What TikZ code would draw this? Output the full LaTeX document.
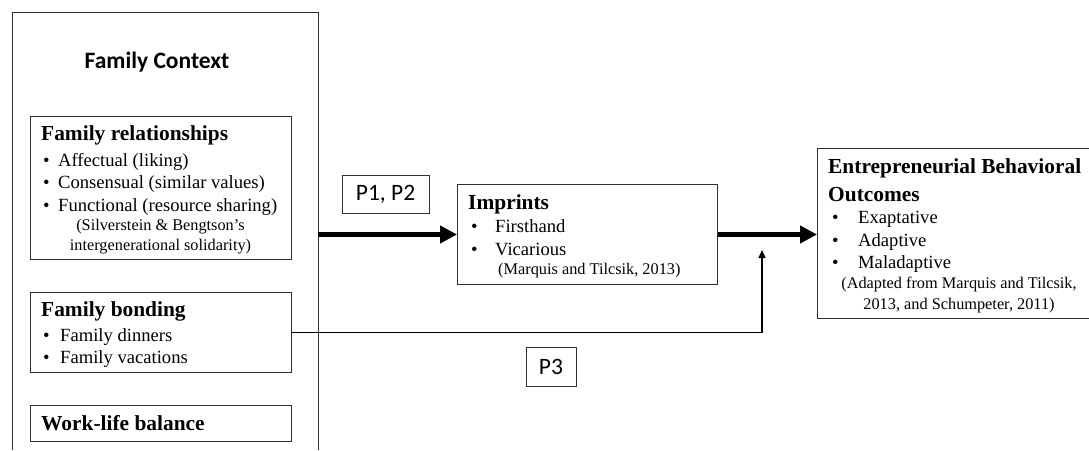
\documentclass[tikz,border=0pt]{standalone}
\usepackage{fontspec}
\setmainfont{Liberation Serif}
\newfontfamily\calfont{Carlito}
\usetikzlibrary{arrows.meta}
\definecolor{boxc}{HTML}{303030}
\tikzset{
  box/.style={draw=boxc, line width=1pt, inner sep=0pt, anchor=north west},
  ttl/.style={anchor=base west, inner sep=0pt, font=\fontsize{21.4}{24}\selectfont\bfseries},
  itm/.style={anchor=base west, inner sep=0pt, font=\fontsize{18.6}{22}\selectfont},
  bul/.style={anchor=base west, inner sep=0pt, font=\fontsize{18.6}{22}\selectfont},
  smallc/.style={anchor=base, inner sep=0pt, font=\fontsize{16.3}{19}\selectfont},
  smalll/.style={anchor=base west, inner sep=0pt, font=\fontsize{16.3}{19}\selectfont},
  pbox/.style={draw=boxc, line width=1pt, inner sep=0pt, font=\calfont\fontsize{23.5}{26}\selectfont},
  bigarrow/.style={line width=5.5pt, -{Triangle[length=17pt,width=17pt]}},
  thinarrow/.style={line width=1.2pt, -{Triangle[length=8pt,width=7pt]}},
}
\begin{document}
\begin{tikzpicture}[x=1pt,y=-1pt]
\useasboundingbox (0,0) rectangle (1089,450);
% outer family context frame (open at the bottom)
\node[inner sep=0pt, minimum width=306pt, minimum height=438pt, anchor=north west] (ctx) at (12,12) {};
\draw[boxc, line width=1pt] (ctx.south west) -- (ctx.north west) -- (ctx.north east) -- (ctx.south east);
\node[anchor=base, inner sep=0pt, font=\calfont\bfseries\fontsize{23.5}{26}\selectfont] (ctxt) at (157,68) {Family Context};

% Family relationships
\node[box, minimum width=261pt, minimum height=143pt] (fr) at (30,116) {};
\node[ttl] (fr0) at (41,140) {Family relationships};
\node[bul] (frb1) at (43,166) {•};
\node[itm] (fr1) at (58,166) {Affectual (liking)};
\node[bul] (frb2) at (43,188) {•};
\node[itm] (fr2) at (58,188) {Consensual (similar values)};
\node[bul] (frb3) at (43,211) {•};
\node[itm] (fr3) at (58,211) {Functional (resource sharing)};
\node[smallc] (fr4) at (160.5,230) {(Silverstein \& Bengtson’s};
\node[smallc] (fr5) at (160.5,250) {intergenerational solidarity)};

% Family bonding
\node[box, minimum width=261pt, minimum height=80pt] (fb) at (30,292) {};
\node[ttl] (fb0) at (41,316) {Family bonding};
\node[bul] (fbb1) at (43,341) {•};
\node[itm] (fb1) at (60,341) {Family dinners};
\node[bul] (fbb2) at (43,363) {•};
\node[itm] (fb2) at (60,363) {Family vacations};

% Work-life balance
\node[box, minimum width=261pt, minimum height=36pt] (wl) at (30,405) {};
\node[ttl] (wl0) at (41,430) {Work-life balance};

% Imprints
\node[box, minimum width=260pt, minimum height=100pt] (im) at (457,184) {};
\node[ttl] (im0) at (468,209) {Imprints};
\node[bul] (imb1) at (471,232) {•};
\node[itm] (im1) at (495,232) {Firsthand};
\node[bul] (imb2) at (471,255) {•};
\node[itm] (im2) at (495,255) {Vicarious};
\node[smalll] (im3) at (498,274) {(Marquis and Tilcsik, 2013)};

% Entrepreneurial behavioral outcomes (open at the right)
\node[inner sep=0pt, minimum width=272pt, minimum height=170pt, anchor=north west] (eb) at (817,148) {};
\draw[boxc, line width=1pt] (eb.north east) -- (eb.north west) -- (eb.south west) -- (eb.south east);
\node[ttl] (eb0) at (828,173) {Entrepreneurial Behavioral};
\node[ttl] (eb1) at (828,201) {Outcomes};
\node[bul] (ebb2) at (832,223) {•};
\node[itm] (eb2) at (858,223) {Exaptative};
\node[bul] (ebb3) at (832,246) {•};
\node[itm] (eb3) at (858,246) {Adaptive};
\node[bul] (ebb4) at (832,268) {•};
\node[itm] (eb4) at (858,268) {Maladaptive};
\node[smallc] (eb5) at (959,288) {(Adapted from Marquis and Tilcsik,};
\node[smallc] (eb6) at (959,309) {2013, and Schumpeter, 2011)};

% proposition labels
\node[pbox, minimum width=87pt, minimum height=38pt] (p12) at (385.5,194) {P1, P2};
\node[pbox, minimum width=50pt, minimum height=39pt] (p3) at (551,366.5) {P3};

% connectors
\draw[bigarrow] (ctx.east |- im.west) -- (im.west);
\draw[bigarrow] (im.east) -- (eb.west |- im.east);
\coordinate (p3tip) at (762,250);
\draw[thinarrow] (fb.east) -| (p3tip);
\end{tikzpicture}
\end{document}
